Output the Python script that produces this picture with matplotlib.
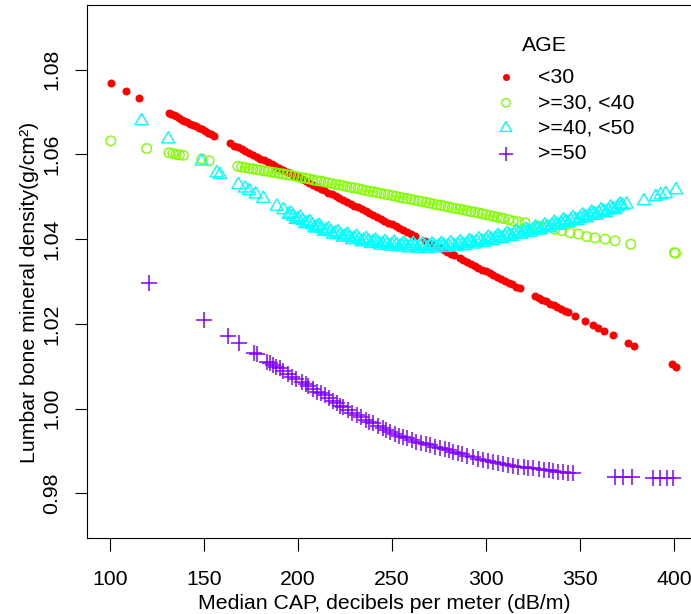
import matplotlib
matplotlib.use("Agg")
import matplotlib.pyplot as plt
from matplotlib.path import Path

plt.rcParams['font.family'] = ['Liberation Sans', 'DejaVu Sans']

# ---------------- data ----------------
series_labels = ['<30', '>=30, <40', '>=40, <50', '>=50']
series_colors = ['#FF0000', '#80FF00', '#00FFFF', '#8000FF']

red_x = [100.5, 108.5, 115.4,
         131.4, 132.5, 133.8, 135.1, 136.5, 138.3, 139.6, 141.0, 142.6, 144.0,
         145.7, 147.5, 149.0, 150.5, 152.0, 153.5, 155.5,
         164, 166, 168, 170, 172, 174, 176, 178, 180, 182,
         184, 186, 188, 190, 192, 194, 196, 198, 200, 202,
         204, 206, 208, 210, 212, 214, 216, 218, 220, 222,
         224, 226, 228, 230, 232, 234, 236, 238, 240, 242,
         244, 246, 248, 250, 252, 254, 256, 258, 260, 262,
         267.5, 269.5, 271.5, 273.5, 275.5, 277.5, 279.5, 281.5, 283,
         286, 288, 290, 292, 294, 296, 298, 300, 302, 304,
         306, 308, 310, 312, 314, 316, 318,
         326, 328, 330, 332, 334, 336, 338, 340, 342, 343.5,
         347.3, 352.7, 356.8, 359.7, 362.8, 367.7, 375.7, 378.7, 398.8, 401.0]
red_y = [1.0769, 1.0750, 1.0733,
         1.0698, 1.0696, 1.0693, 1.0690, 1.0686, 1.0682, 1.0680, 1.0677, 1.0673, 1.0670,
         1.0666, 1.0662, 1.0659, 1.0656, 1.0651, 1.0648, 1.0643,
         1.0626, 1.0621, 1.0617, 1.0612, 1.0608, 1.0603, 1.0599, 1.0595, 1.0590, 1.0586,
         1.0581, 1.0577, 1.0572, 1.0568, 1.0563, 1.0559, 1.0555, 1.0550, 1.0546, 1.0541,
         1.0537, 1.0532, 1.0528, 1.0524, 1.0519, 1.0515, 1.0510, 1.0506, 1.0501, 1.0497,
         1.0492, 1.0488, 1.0484, 1.0479, 1.0475, 1.0470, 1.0466, 1.0461, 1.0457, 1.0452,
         1.0448, 1.0444, 1.0439, 1.0435, 1.0430, 1.0426, 1.0421, 1.0417, 1.0413, 1.0408,
         1.0396, 1.0391, 1.0387, 1.0383, 1.0378, 1.0374, 1.0369, 1.0365, 1.0362,
         1.0355, 1.0350, 1.0346, 1.0342, 1.0337, 1.0333, 1.0328, 1.0324, 1.0319, 1.0315,
         1.0310, 1.0306, 1.0302, 1.0297, 1.0293, 1.0288, 1.0284,
         1.0266, 1.0262, 1.0257, 1.0253, 1.0248, 1.0244, 1.0239, 1.0235, 1.0231, 1.0227,
         1.0218, 1.0207, 1.0197, 1.0191, 1.0184, 1.0174, 1.0155, 1.0148, 1.0105, 1.0099]

green_x = [100.4, 119.5, 131.4, 133.5, 135.1, 136.9, 139.0, 148.8, 152.7,
           168, 170, 172, 174, 176, 178, 180, 182, 184, 186,
           188, 190, 192, 194, 196, 198, 200, 202, 204, 206,
           208, 210, 212, 214, 216, 218, 220, 222, 224, 226,
           228, 230, 232, 234, 236, 238, 240, 242, 244, 246,
           248, 250, 252, 254, 256, 258, 260, 262, 264, 266,
           268, 270, 272, 274, 276, 278, 280, 282, 284, 286,
           288, 290, 292, 294, 296, 298, 300, 302, 304, 306,
           308, 309.2, 312, 314.5, 317.2, 320.7, 327.8, 331.4, 336.7, 340.3,
           344.7, 349.1, 353.6, 358.0, 363.3, 368.6, 377.0, 400.2, 400.8]
green_y = [1.0632, 1.0614, 1.0604, 1.0602, 1.0600, 1.0599, 1.0598, 1.0589, 1.0585,
           1.0572, 1.0570, 1.0569, 1.0567, 1.0566, 1.0564, 1.0563, 1.0561, 1.0560, 1.0558,
           1.0557, 1.0555, 1.0554, 1.0552, 1.0551, 1.0549, 1.0547, 1.0545, 1.0544, 1.0542,
           1.0540, 1.0538, 1.0537, 1.0535, 1.0533, 1.0531, 1.0529, 1.0528, 1.0526, 1.0524,
           1.0522, 1.0521, 1.0519, 1.0517, 1.0515, 1.0513, 1.0512, 1.0510, 1.0508, 1.0506,
           1.0505, 1.0503, 1.0501, 1.0499, 1.0497, 1.0496, 1.0494, 1.0492, 1.0490, 1.0489,
           1.0487, 1.0485, 1.0483, 1.0481, 1.0480, 1.0478, 1.0476, 1.0474, 1.0472, 1.0471,
           1.0469, 1.0467, 1.0465, 1.0464, 1.0462, 1.0460, 1.0458, 1.0456, 1.0454, 1.0452,
           1.0450, 1.0449, 1.0446, 1.0443, 1.0441, 1.0439, 1.0431, 1.0427, 1.0423, 1.0420,
           1.0415, 1.0412, 1.0406, 1.0403, 1.0400, 1.0396, 1.0388, 1.0368, 1.0367]

cyan_x = [116.8, 131.0, 148.8, 156.8, 158.5, 168.3, 171.8, 174.1, 177.5, 181.5, 188.7, 192.2,
          195.0, 197.5, 200.0, 202.5, 205.0, 207.5, 210.0, 212.5, 215.0, 217.5,
          220.0, 222.5, 225.0, 227.5, 230.0, 232.5, 235.0, 237.5, 240.0, 242.5,
          245.0, 247.5, 250.0, 252.5, 255.0, 257.5, 260.0, 262.5, 265.0, 267.5,
          270.0, 272.5, 275.0, 277.5, 280.0, 282.5, 285.0, 287.5, 290.0, 292.5,
          295.0, 297.5, 300.0, 302.5, 305.0, 307.5, 310.0, 312.5, 315.0, 317.5,
          320.0, 322.5, 325.0, 327.5, 330.0, 332.5, 335.0, 337.5, 340.0, 342.5,
          345.0, 347.5, 350.0, 352.5, 355.0, 357.5, 360.0, 362.5, 365.0, 367.5,
          370.0, 372.5,
          374.8, 384.0, 390.3, 392.9, 395.6, 401.1]
cyan_y = [1.0679, 1.0636, 1.0584, 1.0556, 1.0552, 1.0528, 1.0520, 1.0514, 1.0506, 1.0496, 1.0477, 1.0469,
          1.0458, 1.0453, 1.0448, 1.0443, 1.0438, 1.0433, 1.0429, 1.0425, 1.0421, 1.0417,
          1.0414, 1.0410, 1.0407, 1.0404, 1.0402, 1.0399, 1.0397, 1.0395, 1.0393, 1.0391,
          1.0389, 1.0388, 1.0387, 1.0386, 1.0385, 1.0384, 1.0384, 1.0383, 1.0383, 1.0383,
          1.0383, 1.0383, 1.0384, 1.0384, 1.0385, 1.0386, 1.0387, 1.0388, 1.0390, 1.0392,
          1.0394, 1.0396, 1.0398, 1.0400, 1.0402, 1.0404, 1.0407, 1.0409, 1.0412, 1.0414,
          1.0417, 1.0419, 1.0422, 1.0424, 1.0427, 1.0429, 1.0432, 1.0435, 1.0438, 1.0441,
          1.0444, 1.0446, 1.0449, 1.0453, 1.0456, 1.0459, 1.0462, 1.0465, 1.0468, 1.0472,
          1.0475, 1.0479,
          1.0482, 1.0490, 1.0500, 1.0504, 1.0507, 1.0516]
# second row of >=40,<50 points that makes the band thicker in the reference
cyan_x_b = [196.25, 198.75, 201.25, 203.75, 206.25, 208.75, 211.25, 213.75, 216.25, 218.75,
            221.25, 223.75, 226.25, 228.75, 231.25, 233.75, 236.25, 238.75, 241.25, 243.75,
            246.25, 248.75, 251.25, 253.75, 256.25, 258.75, 261.25, 263.75, 266.25, 268.75,
            271.25, 273.75, 276.25, 278.75, 281.25, 283.75, 286.25, 288.75, 291.25, 293.75,
            296.25, 298.75, 301.25, 303.75, 306.25, 308.75, 311.25, 313.75, 316.25, 318.75,
            321.25, 323.75, 326.25, 328.75, 331.25, 333.75, 336.25, 338.75, 341.25, 343.75,
            346.25, 348.75, 351.25, 353.75, 356.25, 358.75, 361.25, 363.75, 366.25, 368.75,
            371.25]
cyan_y_b = [1.0461, 1.0446, 1.0451, 1.0436, 1.0441, 1.0426, 1.0432, 1.0418, 1.0424, 1.0411,
            1.0417, 1.0404, 1.0411, 1.0398, 1.0406, 1.0393, 1.0401, 1.0389, 1.0397, 1.0385,
            1.0394, 1.0383, 1.0392, 1.0381, 1.0390, 1.0379, 1.0389, 1.0378, 1.0388, 1.0378,
            1.0388, 1.0379, 1.0389, 1.0380, 1.0391, 1.0382, 1.0393, 1.0384, 1.0396, 1.0388,
            1.0400, 1.0392, 1.0404, 1.0396, 1.0408, 1.0401, 1.0413, 1.0406, 1.0418, 1.0411,
            1.0423, 1.0416, 1.0428, 1.0421, 1.0433, 1.0426, 1.0439, 1.0432, 1.0445, 1.0438,
            1.0450, 1.0443, 1.0456, 1.0450, 1.0463, 1.0456, 1.0469, 1.0462, 1.0475, 1.0469,
            1.0482]

purple_x = [120.7, 150.0, 162.9, 168.4, 176.4, 178.2, 183.3, 185.0, 186.9, 188.5,
            190.4, 192.2, 194.5, 196.7, 199.0, 202.0, 204.0, 205.5, 208.0, 210.0,
            212.0, 214.4, 216.5, 218.8, 221.0, 222.3, 224.1, 226.8, 229.0, 231.2,
            233.5, 236.0, 238.0, 240.1, 242.5, 245.0, 247.0, 249.0, 251.5, 254.0,
            256.0, 257.8, 260.5, 263.0, 265.5, 268.0, 270.2, 273.0, 275.5, 278.0,
            280.5, 282.6, 285.0, 287.5, 290.0, 293.3, 296.0, 298.5, 301.0, 303.9,
            306.5, 309.0, 311.5, 314.5, 317.0, 320.0, 322.5, 325.2, 328.0, 331.0,
            333.5, 335.8, 338.5, 341.0, 343.5, 346.5, 368.6, 373.0, 377.5, 389.0,
            392.6, 396.1, 399.6]
purple_y = [1.0296, 1.0209, 1.0171, 1.0154, 1.0132, 1.0129, 1.0110, 1.0107, 1.0103, 1.0099,
            1.0095, 1.0089, 1.0082, 1.0075, 1.0070, 1.0063, 1.0058, 1.0053, 1.0046, 1.0040,
            1.0036, 1.0031, 1.0025, 1.0019, 1.0012, 1.0006, 1.0003, 0.9997, 0.9990, 0.9985,
            0.9980, 0.9974, 0.9969, 0.9965, 0.9960, 0.9954, 0.9949, 0.9945, 0.9940, 0.9936,
            0.9932, 0.9930, 0.9926, 0.9922, 0.9919, 0.9916, 0.9914, 0.9910, 0.9907, 0.9904,
            0.9901, 0.9898, 0.9895, 0.9892, 0.9889, 0.9885, 0.9882, 0.9879, 0.9877, 0.9874,
            0.9871, 0.9869, 0.9867, 0.9864, 0.9863, 0.9861, 0.9860, 0.9859, 0.9857, 0.9855,
            0.9854, 0.9853, 0.9851, 0.9850, 0.9849, 0.9848, 0.9839, 0.9839, 0.9839, 0.9835,
            0.9835, 0.9835, 0.9835]

x_ticks = [100, 150, 200, 250, 300, 350, 400]
y_ticks = [0.98, 1.00, 1.02, 1.04, 1.06, 1.08]
y_tick_labels = ['0.98', '1.00', '1.02', '1.04', '1.06', '1.08']
x_label = 'Median CAP, decibels per meter (dB/m)'
y_label = 'Lumbar bone mineral density(g/cm\u00b2)'
legend_title = 'AGE'

# ---------------- figure ----------------
FS = 15.3
W, H = 691, 614
fig = plt.figure(figsize=(W / 100, H / 100), dpi=100)
ax_left, ax_right, ax_top, ax_bottom = 87, 698.4, 5, 538.3
ax = fig.add_axes([ax_left / W, (H - ax_bottom) / H,
                   (ax_right - ax_left) / W, (ax_bottom - ax_top) / H])
ax.set_xlim(87.77, 413)
ax.set_ylim(0.96937, 1.09528)

tri = Path([(0, 1), (-0.866, -0.5), (0.866, -0.5), (0, 1)],
           [Path.MOVETO, Path.LINETO, Path.LINETO, Path.CLOSEPOLY])

ax.scatter(red_x, red_y, s=33, marker='o', color=series_colors[0],
           linewidths=0, label=series_labels[0], zorder=2)
ax.scatter(green_x, green_y, s=47, marker='o', facecolors='none',
           edgecolors=series_colors[1], linewidths=1.0, label=series_labels[1], zorder=3)
ax.scatter(cyan_x + cyan_x_b, cyan_y + cyan_y_b, s=117, marker=tri, facecolors='none',
           edgecolors=series_colors[2], linewidths=1.0, label=series_labels[2], zorder=4)
ax.scatter(purple_x, purple_y, s=117, marker='+', color=series_colors[3],
           linewidths=1.1, label=series_labels[3], zorder=5)

for sp in ax.spines.values():
    sp.set_linewidth(0.8)
    sp.set_color('black')

ax.set_xticks(x_ticks)
ax.set_yticks(y_ticks, labels=y_tick_labels)
ax.tick_params(axis='both', length=9, width=0.8, labelsize=FS, colors='black')
ax.tick_params(axis='x', pad=14)
ax.tick_params(axis='y', pad=9.6)
for lbl in ax.get_yticklabels():
    lbl.set_rotation(90)
    lbl.set_va('center')

ax.set_xlabel(x_label, fontsize=FS)
ax.set_ylabel(y_label, fontsize=FS)
ax.xaxis.set_label_coords((384.5 - ax_left) / (ax_right - ax_left),
                          (ax_bottom - 594) / (ax_bottom - ax_top))
ax.yaxis.set_label_coords((39.4 - ax_left) / (ax_right - ax_left),
                          (ax_bottom - 292) / (ax_bottom - ax_top))

ax.legend(loc='upper left', bbox_to_anchor=(495.3 / W, (H - 68) / H),
          bbox_transform=fig.transFigure, frameon=False, fontsize=FS,
          handlelength=1.0, handletextpad=1.02, labelspacing=0.30,
          borderpad=0, borderaxespad=0, markerscale=0.88, scatterpoints=1)
fig.text(521.7 / W, (H - 51) / H, legend_title, fontsize=FS, ha='left', va='baseline')

fig.savefig('out.png', dpi=100)
